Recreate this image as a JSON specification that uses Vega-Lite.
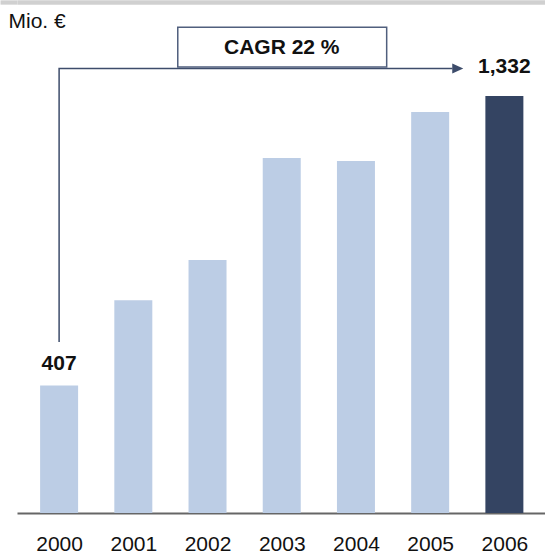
{
  "$schema": "https://vega.github.io/schema/vega-lite/v6.json",
  "width": 528,
  "height": 513,
  "autosize": {"type": "none"},
  "padding": {"left": 17, "top": 0, "right": 0, "bottom": 41},
  "background": "white",
  "config": {"view": {"stroke": null}, "font": "Liberation Sans"},
  "datasets": {
    "bars": [
      {"year": 2000, "value": 407},
      {"year": 2001, "value": 680},
      {"year": 2002, "value": 808},
      {"year": 2003, "value": 1134},
      {"year": 2004, "value": 1125},
      {"year": 2005, "value": 1281},
      {"year": 2006, "value": 1332}
    ],
    "arrow": [
      {"year": 2000, "value": 546, "step": 1},
      {"year": 2000, "value": 1420, "step": 2},
      {"year": 2005.3, "value": 1420, "step": 3}
    ],
    "head": [{"year": 2005.372, "value": 1420}],
    "box": [{"year": 2001.599, "year2": 2004.414, "value": 1425, "value2": 1552}],
    "labels": [
      {"year": 2000, "value": 476, "label": "407"},
      {"year": 2006, "value": 1425, "label": "1,332"},
      {"year": 2003, "value": 1487, "label": "CAGR 22 %"}
    ]
  },
  "encoding": {
    "x": {
      "field": "year",
      "type": "quantitative",
      "scale": {"domain": [1999.5, 2006.48], "nice": false, "zero": false},
      "axis": {
        "values": [2000, 2001, 2002, 2003, 2004, 2005, 2006],
        "format": "d",
        "labelFontSize": 21,
        "labelColor": "#111111",
        "labelFont": "Liberation Sans",
        "ticks": false,
        "domainColor": "#666666",
        "domainWidth": 2,
        "grid": false,
        "title": null,
        "labelPadding": 20,
        "labelFlush": false,
        "labelOverlap": false
      }
    },
    "y": {
      "field": "value",
      "type": "quantitative",
      "scale": {"domain": [0, 1639], "nice": false, "zero": true},
      "axis": {
        "values": [1632],
        "labels": false,
        "domain": false,
        "ticks": true,
        "tickSize": 17,
        "tickWidth": 4.3,
        "tickColor": "#d0d0d0",
        "grid": true,
        "gridColor": "#d0d0d0",
        "gridWidth": 4.3,
        "title": "Mio. €",
        "titleAngle": 0,
        "titleAlign": "left",
        "titleBaseline": "middle",
        "titleX": -9,
        "titleY": 21,
        "titleFontSize": 21,
        "titleFontWeight": "normal",
        "titleColor": "#111111",
        "titleFont": "Liberation Sans"
      }
    }
  },
  "layer": [
    {
      "data": {"name": "bars"},
      "mark": {"type": "bar", "width": 38},
      "encoding": {
        "color": {
          "condition": {"test": "datum.year === 2006", "value": "#344462"},
          "value": "#bccde5"
        }
      }
    },
    {
      "data": {"name": "arrow"},
      "mark": {"type": "line", "color": "#3d4c6b", "strokeWidth": 1.5},
      "encoding": {"order": {"field": "step", "type": "quantitative"}}
    },
    {
      "data": {"name": "head"},
      "mark": {"type": "point", "shape": "M-1,-0.9L1,0L-1,0.9Z", "size": 121, "filled": true, "color": "#3d4c6b", "opacity": 1},
      "encoding": {}
    },
    {
      "data": {"name": "box"},
      "mark": {"type": "rect", "fill": "white", "stroke": "#505f7d", "strokeWidth": 1.5},
      "encoding": {
        "x2": {"field": "year2"},
        "y2": {"field": "value2"}
      }
    },
    {
      "data": {"name": "labels"},
      "mark": {"type": "text", "fontSize": 21, "fontWeight": "bold", "align": "center", "baseline": "middle", "color": "#111111", "font": "Liberation Sans"},
      "encoding": {"text": {"field": "label"}}
    }
  ]
}
